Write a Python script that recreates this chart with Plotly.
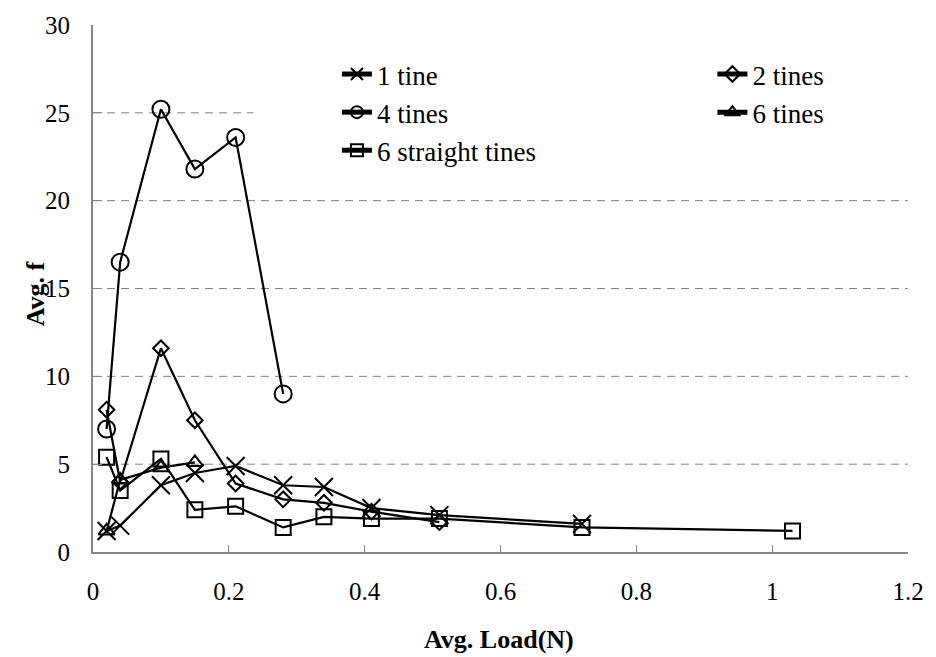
import plotly.graph_objects as go

# ---- data ----
one_x = [0.02, 0.04, 0.10, 0.15, 0.21, 0.28, 0.34, 0.41, 0.51, 0.72]
one_y = [1.2, 1.5, 3.8, 4.5, 4.9, 3.8, 3.7, 2.5, 2.1, 1.6]

two_x = [0.02, 0.04, 0.10, 0.15, 0.21, 0.28, 0.34, 0.41, 0.51]
two_y = [8.1, 4.0, 11.6, 7.5, 3.9, 3.0, 2.8, 2.3, 1.7]

four_x = [0.02, 0.04, 0.10, 0.15, 0.21, 0.28]
four_y = [7.0, 16.5, 25.2, 21.8, 23.6, 9.0]

six_x = [0.02, 0.04, 0.10, 0.15]
six_y = [1.2, 4.1, 4.8, 5.1]

straight_x = [0.02, 0.04, 0.10, 0.15, 0.21, 0.28, 0.34, 0.41, 0.51, 0.72, 1.03]
straight_y = [5.4, 3.5, 5.3, 2.4, 2.6, 1.4, 2.0, 1.9, 1.9, 1.4, 1.2]

series_names = ["1 tine", "2 tines", "4 tines", "6 tines", "6 straight tines"]
x_ticks = [0, 0.2, 0.4, 0.6, 0.8, 1.0, 1.2]
y_ticks = [0, 5, 10, 15, 20, 25, 30]
y_grid = [5, 10, 15, 20, 25]

FONT = "Liberation Serif"

fig = go.Figure()

specs = [
    (one_x, one_y, series_names[0], "x-thin-open", 18, "legend"),
    (two_x, two_y, series_names[1], "diamond-open", 12, "legend2"),
    (four_x, four_y, series_names[2], "circle-open", 17, "legend"),
    (six_x, six_y, series_names[3], "triangle-up-open", 14, "legend2"),
    (straight_x, straight_y, series_names[4], "square-open", 15, "legend"),
]

for xs, ys, name, sym, size, leg in specs:
    fig.add_trace(go.Scatter(
        x=xs, y=ys, name=name, mode="lines+markers",
        line=dict(color="black", width=2.2),
        marker=dict(symbol=sym, size=size, color="black",
                    line=dict(color="black", width=2)),
        legend=leg,
    ))

axis_grey = "#868686"

# dashed horizontal grid lines (no line at 0 or 30), then a white block
# behind the legend that hides the grid there
shapes = [
    dict(type="line", xref="x domain", yref="y", x0=0, x1=1, y0=v, y1=v,
         line=dict(color="#808080", width=1, dash="8px,6px"), layer="below")
    for v in y_grid
]
shapes.append(dict(
    type="rect", xref="x domain", yref="y domain",
    x0=0.197, x1=1.0, y0=0.74, y1=0.95,
    fillcolor="white", line=dict(width=0), layer="below",
))

fig.update_layout(
    width=936, height=657,
    margin=dict(l=93, r=22, t=21, b=105),
    paper_bgcolor="white", plot_bgcolor="white",
    font=dict(family=FONT, color="black", size=25),
    showlegend=True,
    xaxis=dict(
        range=[0, 1.2], tickvals=x_ticks, ticktext=[f"{v:g}" for v in x_ticks],
        ticks="inside", ticklen=7, tickcolor=axis_grey, tickwidth=1,
        showline=True, linecolor=axis_grey, linewidth=2,
        showgrid=False, zeroline=False,
        tickfont=dict(family=FONT, size=25, color="black"),
        ticklabelstandoff=16,
    ),
    yaxis=dict(
        range=[0, 30], tickvals=y_ticks,
        ticks="inside", ticklen=9, tickcolor=axis_grey, tickwidth=1,
        showline=True, linecolor=axis_grey, linewidth=2,
        showgrid=False, zeroline=False,
        tickfont=dict(family=FONT, size=25, color="black"),
        ticklabelstandoff=16,
    ),
    legend=dict(
        x=0.2993, xanchor="left", y=0.9526, yanchor="top",
        bgcolor="rgba(0,0,0,0)", borderwidth=0,
        font=dict(family=FONT, size=27, color="black"),
        itemsizing="constant", traceorder="normal",
    ),
    legend2=dict(
        x=0.760, xanchor="left", y=0.9526, yanchor="top",
        bgcolor="rgba(0,0,0,0)", borderwidth=0,
        font=dict(family=FONT, size=27, color="black"),
        itemsizing="constant", traceorder="normal",
    ),
    shapes=shapes,
    annotations=[
        dict(text="<b>Avg. Load(N)</b>", xref="paper", yref="paper",
             x=0.498, y=-0.1657, xanchor="center", yanchor="middle",
             showarrow=False, font=dict(family=FONT, size=26, color="black")),
        dict(text="<b>Avg. f</b>", xref="paper", yref="paper",
             x=-0.0706, y=0.49, xanchor="center", yanchor="middle",
             textangle=-90, showarrow=False,
             font=dict(family=FONT, size=26, color="black")),
    ],
)

fig.write_html("out.html")
